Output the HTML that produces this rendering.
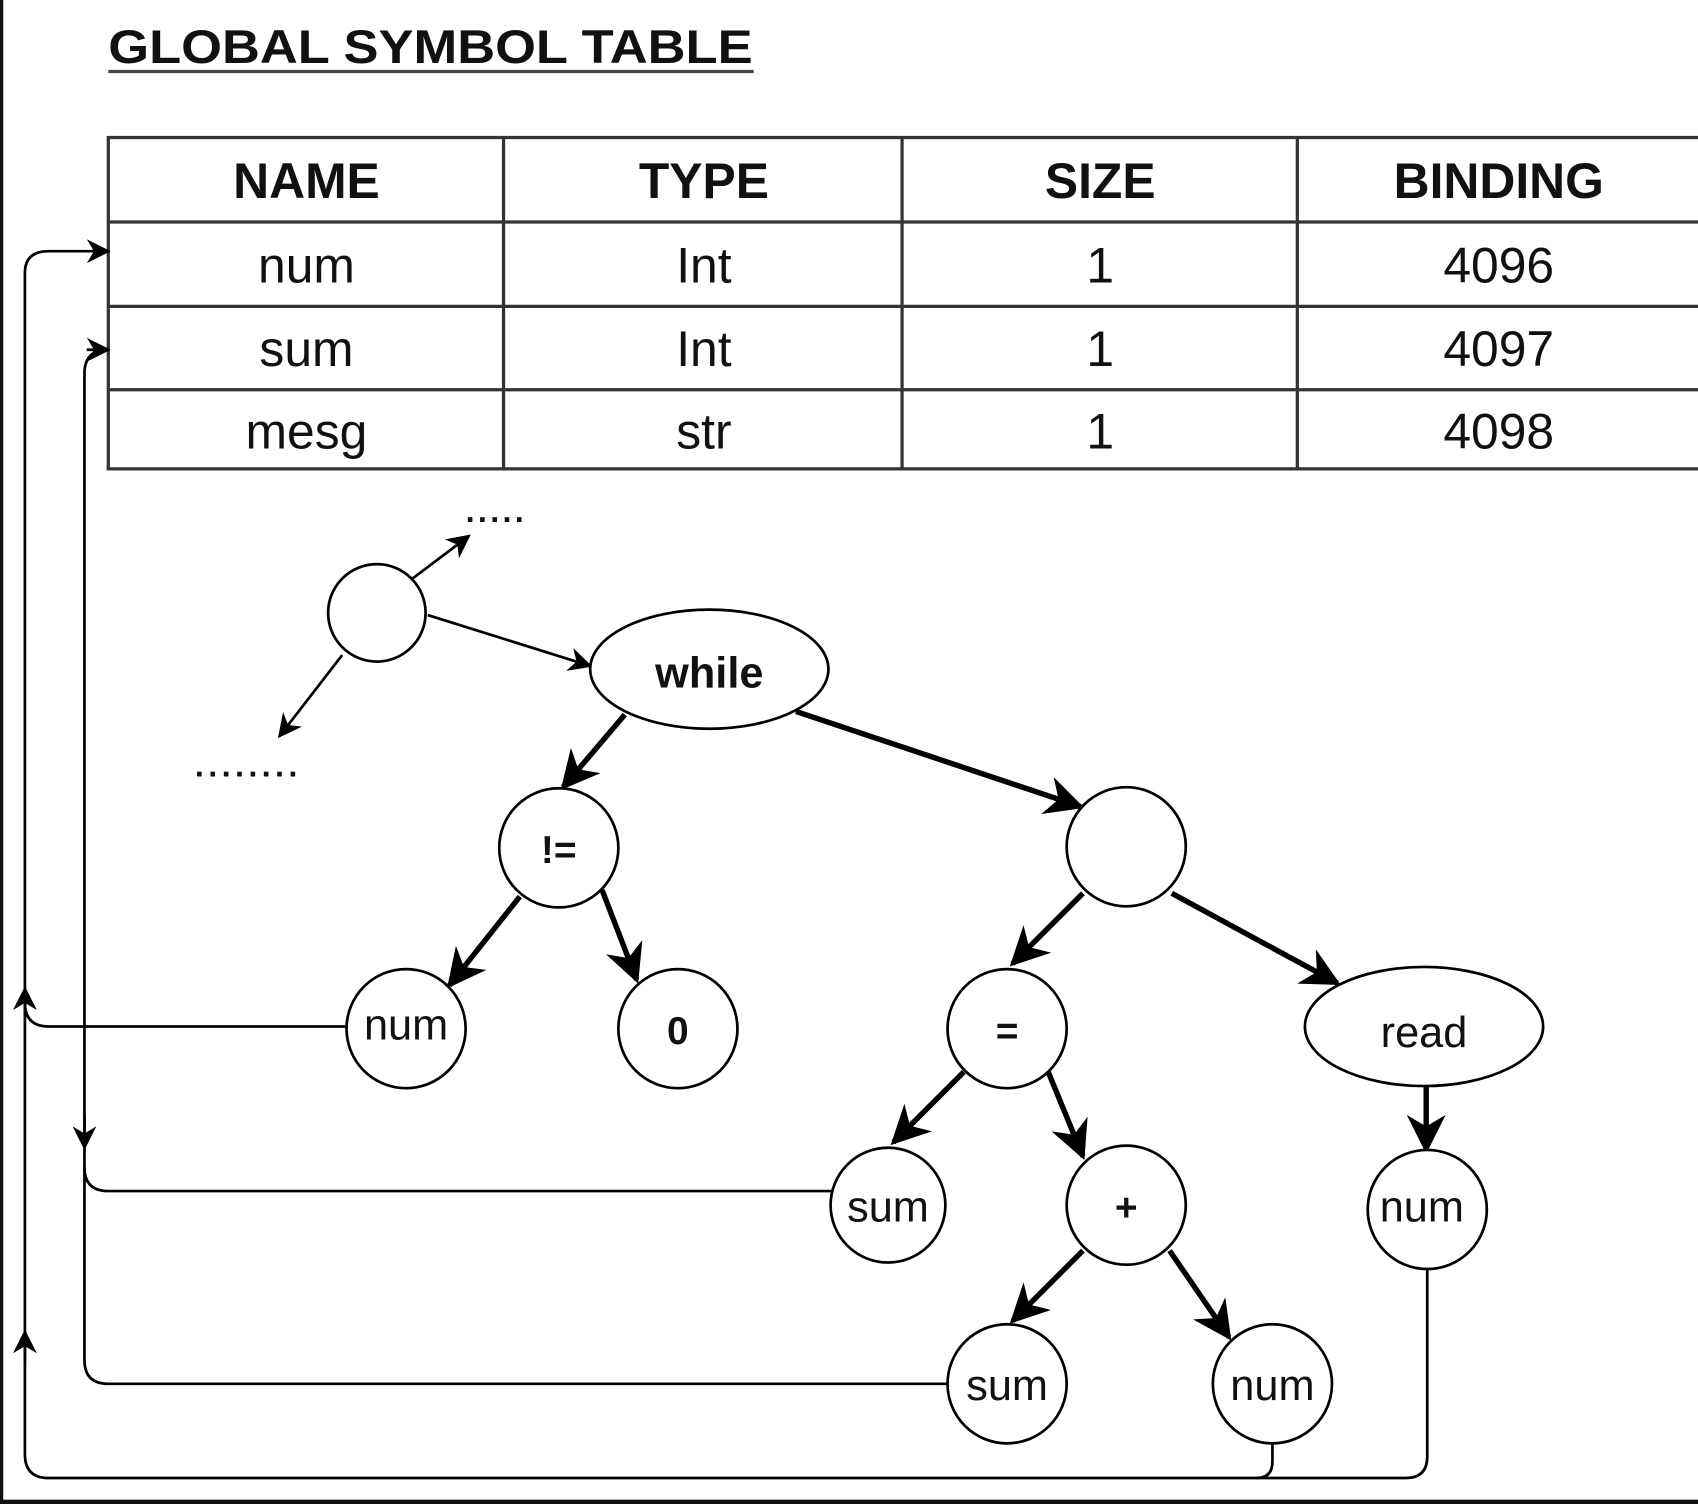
<!DOCTYPE html>
<html><head><meta charset="utf-8"><style>
html,body{margin:0;padding:0;background:#fff;}
svg{display:block;}
text{font-family:"Liberation Sans",Arial,sans-serif;fill:#111;}
</style></head><body>
<svg width="1698" height="1504" viewBox="0 0 1568 1389" preserveAspectRatio="none">
<defs>
<marker id="s" viewBox="0 0 10 10" refX="9" refY="5" markerWidth="22" markerHeight="22" orient="auto" markerUnits="userSpaceOnUse"><path d="M0,0 L10,5 L0,10 L3,5 z" fill="#000"/></marker>
<marker id="b" viewBox="0 0 10 10" refX="9" refY="5" markerWidth="36" markerHeight="36" orient="auto" markerUnits="userSpaceOnUse"><path d="M0,0 L10,5 L0,10 L3,5 z" fill="#000"/></marker>
</defs>
<rect x="0" y="0" width="1568" height="1389" fill="#fff"/>
<rect x="0" y="0" width="3" height="1389" fill="#111"/>
<rect x="0" y="1385" width="1568" height="4" fill="#111"/>
<text x="100" y="58" font-size="44" font-weight="bold" textLength="595" lengthAdjust="spacingAndGlyphs" fill="#333">GLOBAL SYMBOL TABLE</text>
<line x1="100" y1="66" x2="696" y2="66" stroke="#444" stroke-width="3"/>
<g stroke="#333" stroke-width="3" fill="none">
<rect x="100" y="127" width="1470" height="306"/>
<line x1="100" y1="205" x2="1568" y2="205"/>
<line x1="100" y1="283" x2="1568" y2="283"/>
<line x1="100" y1="360" x2="1568" y2="360"/>
<line x1="465" y1="127" x2="465" y2="433"/>
<line x1="833" y1="127" x2="833" y2="433"/>
<line x1="1198" y1="127" x2="1198" y2="433"/>
</g>
<g font-size="46" text-anchor="middle">
<text x="283" y="183" font-weight="bold">NAME</text>
<text x="650" y="183" font-weight="bold">TYPE</text>
<text x="1016" y="183" font-weight="bold">SIZE</text>
<text x="1384" y="183" font-weight="bold">BINDING</text>
<text x="283" y="261" fill="#333">num</text><text x="650" y="261" fill="#333">Int</text><text x="1016" y="261" fill="#333">1</text><text x="1384" y="261" fill="#333">4096</text>
<text x="283" y="338" fill="#333">sum</text><text x="650" y="338" fill="#333">Int</text><text x="1016" y="338" fill="#333">1</text><text x="1384" y="338" fill="#333">4097</text>
<text x="283" y="414" fill="#333">mesg</text><text x="650" y="414" fill="#333">str</text><text x="1016" y="414" fill="#333">1</text><text x="1384" y="414" fill="#333">4098</text>
</g>
<g stroke="#000" stroke-width="2.5" fill="none">
<line x1="395" y1="568" x2="545" y2="615" marker-end="url(#s)"/>
<line x1="380" y1="535" x2="433" y2="495" marker-end="url(#s)"/>
<line x1="316" y1="605" x2="258" y2="680" marker-end="url(#s)"/>
<path d="M320,948 H45 Q23,948 23,926 V252 Q23,232 45,232 H100" marker-end="url(#s)"/>
<path d="M768,1100 H100 Q78,1100 78,1078 V345 Q78,323 100,323" />
<line x1="80" y1="323" x2="100" y2="323" marker-end="url(#s)"/>
<path d="M876,1278 H100 Q78,1278 78,1256 V1078"/>
<path d="M1318,1172 V1345 Q1318,1365 1298,1365 H45 Q23,1365 23,1343 V926"/>
<path d="M1175,1333 V1350 Q1175,1365 1160,1365"/>
<line x1="23" y1="940" x2="23" y2="913" marker-end="url(#s)"/>
<line x1="23" y1="1260" x2="23" y2="1230" marker-end="url(#s)"/>
<line x1="78" y1="1030" x2="78" y2="1060" marker-end="url(#s)"/>
</g>
<text x="430" y="482" font-size="30" font-weight="bold" fill="#1a2f6e" letter-spacing="3">.....</text>
<text x="180" y="717" font-size="30" font-weight="bold" fill="#1a2f6e" letter-spacing="4">........</text>
<g stroke="#000" stroke-width="5" fill="none">
<line x1="577" y1="660" x2="520" y2="727" marker-end="url(#b)"/>
<line x1="735" y1="657" x2="998" y2="745" marker-end="url(#b)"/>
<line x1="480" y1="828" x2="415" y2="910" marker-end="url(#b)"/>
<line x1="556" y1="822" x2="588" y2="905" marker-end="url(#b)"/>
<line x1="1000" y1="825" x2="935" y2="890" marker-end="url(#b)"/>
<line x1="1082" y1="825" x2="1235" y2="908" marker-end="url(#b)"/>
<line x1="890" y1="990" x2="825" y2="1055" marker-end="url(#b)"/>
<line x1="968" y1="990" x2="1000" y2="1068" marker-end="url(#b)"/>
<line x1="1317" y1="1003" x2="1317" y2="1062" marker-end="url(#b)"/>
<line x1="1000" y1="1155" x2="935" y2="1220" marker-end="url(#b)"/>
<line x1="1080" y1="1155" x2="1135" y2="1235" marker-end="url(#b)"/>
</g>
<g stroke="#000" stroke-width="2.5" fill="#fff">
<circle cx="348" cy="566" r="45"/>
<ellipse cx="655" cy="618" rx="110" ry="55"/>
<circle cx="516" cy="783" r="55"/>
<circle cx="1040" cy="782" r="55"/>
<circle cx="375" cy="950" r="55"/>
<circle cx="626" cy="950" r="55"/>
<circle cx="930" cy="950" r="55"/>
<ellipse cx="1315" cy="948" rx="110" ry="55"/>
<circle cx="820" cy="1113" r="53"/>
<circle cx="1040" cy="1113" r="55"/>
<circle cx="1318" cy="1117" r="55"/>
<circle cx="930" cy="1278" r="55"/>
<circle cx="1175" cy="1278" r="55"/>
</g>
<g font-size="40" text-anchor="middle">
<text x="655" y="635" font-weight="bold">while</text>
<text x="516" y="797" font-weight="bold" font-size="36">!=</text>
<text x="375" y="960" fill="#333">num</text>
<text x="626" y="964" font-weight="bold" font-size="36">0</text>
<text x="930" y="964" font-weight="bold" font-size="36">=</text>
<text x="1315" y="967" fill="#333">read</text>
<text x="820" y="1128" fill="#333">sum</text>
<text x="1040" y="1127" font-weight="bold" font-size="36">+</text>
<text x="1313" y="1128" fill="#333">num</text>
<text x="930" y="1293" fill="#333">sum</text>
<text x="1175" y="1293" fill="#333">num</text>
</g>
</svg>
</body></html>
